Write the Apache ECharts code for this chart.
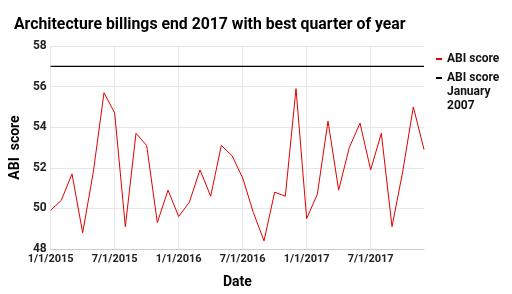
<!DOCTYPE html>
<html><head><meta charset="utf-8">
<script src="https://cdn.jsdelivr.net/npm/echarts@6/dist/echarts.min.js"></script>
<style>html,body{margin:0;padding:0;background:#fff}#c{width:512px;height:294px}</style>
</head><body><div id="c"></div>
<script>
const categories = [
 '1/1/2015','2/1/2015','3/1/2015','4/1/2015','5/1/2015','6/1/2015','7/1/2015','8/1/2015','9/1/2015','10/1/2015','11/1/2015','12/1/2015',
 '1/1/2016','2/1/2016','3/1/2016','4/1/2016','5/1/2016','6/1/2016','7/1/2016','8/1/2016','9/1/2016','10/1/2016','11/1/2016','12/1/2016',
 '1/1/2017','2/1/2017','3/1/2017','4/1/2017','5/1/2017','6/1/2017','7/1/2017','8/1/2017','9/1/2017','10/1/2017','11/1/2017','12/1/2017'];
const abiScore = [49.9,50.4,51.7,48.8,51.8,55.7,54.7,49.1,53.7,53.1,49.3,50.9,
 49.6,50.3,51.9,50.6,53.1,52.6,51.5,49.8,48.4,50.8,50.6,55.9,
 49.5,50.7,54.3,50.9,53.0,54.2,51.9,53.7,49.1,51.8,55.0,52.9];
const jan2007Value = 57;
const yTicks = {min: 48, max: 58, interval: 2};
const seriesNames = ['ABI score', 'ABI score\nJanuary\n2007'];

const font = 'Roboto';
const legendText = {fontFamily: font, fontSize: 12, fontWeight: 'bold', color: '#111', lineHeight: 14};
const chart = echarts.init(document.getElementById('c'));
chart.setOption({
  animation: false,
  title: {text: 'Architecture billings end 2017 with best quarter of year', left: 9, top: 12,
    textStyle: {fontFamily: font, fontSize: 15.8, fontWeight: 'bold', color: '#000'}},
  grid: {left: 49, right: 88, top: 46, bottom: 44},
  legend: [
    {orient: 'vertical', left: 431, top: 47, itemWidth: 6, itemHeight: 2, icon: 'rect',
     data: [seriesNames[0]], textStyle: legendText},
    {orient: 'vertical', left: 431, top: 66, itemWidth: 6, itemHeight: 40,
     icon: 'path://M0,0L0,0M0,5L6,5L6,7L0,7ZM0,40L0,40',
     data: [seriesNames[1]], textStyle: legendText}
  ],
  xAxis: {type: 'category', data: categories, boundaryGap: false,
    name: 'Date', nameLocation: 'middle', nameGap: 26,
    nameTextStyle: {fontFamily: font, fontSize: 14, fontWeight: 'bold', color: '#000'},
    axisLine: {lineStyle: {color: '#ccc'}}, axisTick: {show: false},
    axisLabel: {interval: 5, fontFamily: font, fontSize: 11, fontWeight: 'bold', color: '#222', margin: 5},
    splitLine: {show: true, interval: 5, lineStyle: {color: '#e6e6e6'}}},
  yAxis: {type: 'value', min: yTicks.min, max: yTicks.max, interval: yTicks.interval,
    name: 'ABI  score', nameLocation: 'middle', nameGap: 19,
    nameTextStyle: {fontFamily: font, fontSize: 14, fontWeight: 'bold', color: '#000'},
    axisLine: {show: false}, axisTick: {show: false},
    axisLabel: {fontFamily: font, fontSize: 12, fontWeight: 'bold', color: '#222', margin: 4},
    splitLine: {lineStyle: {color: '#e6e6e6'}}},
  series: [
    {name: seriesNames[0], type: 'line', data: abiScore, symbol: 'none', lineStyle: {color: '#e00000', width: 1}, itemStyle: {color: '#e00000'}},
    {name: seriesNames[1], type: 'line', data: [[categories[0], jan2007Value], [categories[categories.length-1], jan2007Value]],
     symbol: 'none', lineStyle: {color: '#000', width: 1.2}, itemStyle: {color: '#000'}}
  ]
});
</script></body></html>
